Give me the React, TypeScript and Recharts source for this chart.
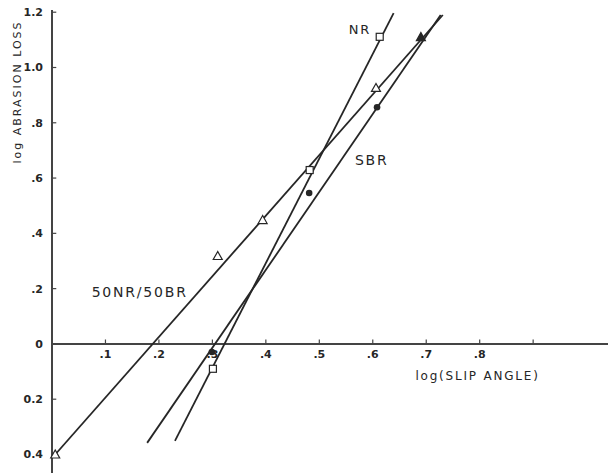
import { ScatterChart, Scatter, XAxis, YAxis, ReferenceLine, ReferenceDot } from "recharts";

const X_TICKS = [0.1, 0.2, 0.3, 0.4, 0.5, 0.6, 0.7, 0.8, 0.9];
const X_TICK_LABELS = [".1", ".2", ".3", ".4", ".5", ".6", ".7", ".8", ""];
const Y_TICKS = [1.2, 1.0, 0.8, 0.6, 0.4, 0.2, 0, -0.2, -0.4];
const Y_TICK_LABELS = ["1.2", "1.0", ".8", ".6", ".4", ".2", "0", "0.2", "0.4"];

// measured points
const NR_POINTS = [{ x: 0.301, y: -0.09 }, { x: 0.482, y: 0.629 }, { x: 0.613, y: 1.111 }];
const SBR_POINTS = [{ x: 0.299, y: -0.029 }, { x: 0.481, y: 0.546 }, { x: 0.608, y: 0.856 }];
const BLEND_POINTS = [{ x: 0.006, y: -0.4 }, { x: 0.31, y: 0.318 }, { x: 0.394, y: 0.448 }, { x: 0.606, y: 0.926 }];
const BLEND_TOP = [{ x: 0.69, y: 1.11 }];

// fitted lines (end points)
const NR_LINE = [{ x: 0.23, y: -0.351 }, { x: 0.639, y: 1.197 }];
const SBR_LINE = [{ x: 0.178, y: -0.358 }, { x: 0.727, y: 1.19 }];
const BLEND_LINE = [{ x: 0.006, y: -0.4 }, { x: 0.731, y: 1.19 }];

const LABELS = [
  { x: 0.576, y: 1.139, text: "NR", size: 13 },
  { x: 0.598, y: 0.665, text: "SBR", size: 14 },
  { x: 0.164, y: 0.188, text: "50NR/50BR", size: 14 },
  { x: 0.796, y: -0.116, text: "log(SLIP ANGLE)", size: 12 },
];

const INK = "#262626";
const FONT = "'DejaVu Sans', sans-serif";

const noShape = () => <g />;

const Square = (p: any) => (
  <rect x={p.cx - 3.5} y={p.cy - 3.5} width={7} height={7} fill="#fff" stroke={INK} strokeWidth={1.2} />
);
const Dot = (p: any) => <circle cx={p.cx} cy={p.cy} r={3.3} fill={INK} />;
const Tri = (p: any) => (
  <polygon
    points={`${p.cx},${p.cy - 4.5} ${p.cx - 4.5},${p.cy + 3.5} ${p.cx + 4.5},${p.cy + 3.5}`}
    fill="#fff" stroke={INK} strokeWidth={1.2}
  />
);
const TriFilled = (p: any) => (
  <polygon
    points={`${p.cx},${p.cy - 4.5} ${p.cx - 4.5},${p.cy + 3.5} ${p.cx + 4.5},${p.cy + 3.5}`}
    fill={INK} stroke={INK} strokeWidth={1.2}
  />
);

export default function App() {
  return (
    <div style={{ position: "absolute", left: 0, top: 0, background: "#fff" }}>
      <ScatterChart width={608} height={473} margin={{ top: 10, right: 0, bottom: 0, left: 0 }}>
        <XAxis type="number" dataKey="x" domain={[0, 1.04]} hide />
        <YAxis
          type="number" dataKey="y" domain={[-0.467, 1.208]} allowDataOverflow
          ticks={Y_TICKS} interval={0} width={52}
          axisLine={{ stroke: "#444", strokeWidth: 2 }} tickLine={false} tickMargin={3}
          tick={{ fill: INK, fontSize: 11, fontFamily: FONT, fontWeight: "bold" }}
          tickFormatter={(v: number) => Y_TICK_LABELS[Y_TICKS.indexOf(v)] ?? ""}
          label={{
            content: (props: any) => {
              const vb = props.viewBox;
              const cx = vb.x + 18;
              const cy = vb.y + 82;
              return (
                <text x={cx} y={cy} transform={`rotate(-90 ${cx} ${cy})`} textAnchor="middle"
                  dominantBaseline="middle" fill={INK} fontSize={11} fontFamily={FONT} letterSpacing={2}>
                  log ABRASION LOSS
                </text>
              );
            },
          }}
        />
        <ReferenceLine y={0} stroke="#444" strokeWidth={2} />
        {Y_TICKS.map((t) => (
          <ReferenceLine key={"yt" + t} segment={[{ x: 0, y: t }, { x: 0.008, y: t }]} stroke="#444" strokeWidth={1.2} />
        ))}
        {X_TICKS.map((t) => (
          <ReferenceLine key={"xt" + t} segment={[{ x: t, y: 0 }, { x: t, y: 0.016 }]} stroke="#444" strokeWidth={1.2} />
        ))}
        {X_TICKS.map((t, i) => (
          <ReferenceDot key={"xl" + t} x={t} y={0} r={0} fill="none" stroke="none"
            label={{ value: X_TICK_LABELS[i], position: "bottom", offset: 6, fill: INK, fontSize: 11, fontFamily: FONT, fontWeight: "bold" }} />
        ))}
        <Scatter data={NR_LINE} line={{ stroke: INK, strokeWidth: 1.8 }} shape={noShape} isAnimationActive={false} />
        <Scatter data={SBR_LINE} line={{ stroke: INK, strokeWidth: 1.8 }} shape={noShape} isAnimationActive={false} />
        <Scatter data={BLEND_LINE} line={{ stroke: INK, strokeWidth: 1.8 }} shape={noShape} isAnimationActive={false} />
        <Scatter data={NR_POINTS} shape={Square} isAnimationActive={false} />
        <Scatter data={SBR_POINTS} shape={Dot} isAnimationActive={false} />
        <Scatter data={BLEND_POINTS} shape={Tri} isAnimationActive={false} />
        <Scatter data={BLEND_TOP} shape={TriFilled} isAnimationActive={false} />
        {LABELS.map((l) => (
          <ReferenceDot key={l.text} x={l.x} y={l.y} r={0} fill="none" stroke="none"
            label={{ value: l.text, position: "center", fill: INK, fontSize: l.size, fontFamily: FONT, letterSpacing: 1.8 }} />
        ))}
      </ScatterChart>
    </div>
  );
}
